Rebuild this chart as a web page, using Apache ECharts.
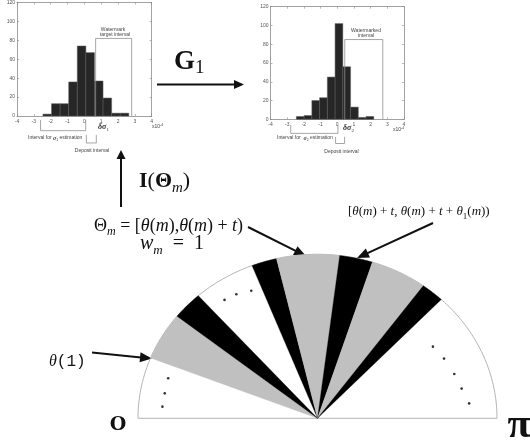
<!DOCTYPE html>
<html><head><meta charset="utf-8">
<script src="https://cdn.jsdelivr.net/npm/echarts/dist/echarts.min.js"></script>
<style>html,body{margin:0;padding:0;background:#fff}#c{width:530px;height:446px}</style>
</head><body><div id="c"></div>
<script>
// ---- Histogram 1 (watermark target) ----
const hist1BinStart = -2.46;
const hist1BinWidth = 0.51;
const hist1Counts = [2, 13, 13, 36, 74, 67, 37, 19, 3, 3];
// ---- Histogram 2 (watermarked) ----
const hist2BinStart = -2.45;
const hist2BinWidth = 0.464;
const hist2Counts = [3, 4, 20, 23, 45, 102, 56, 13, 2, 3];
// axis ranges shared by both histograms
const histXMin = -4, histXMax = 4, histXStep = 1;
const histYMin = 0, histYMax = 120, histYStep = 20;
// intervals drawn under / over the histograms: [x0, x1, yFrom, yTo]
const hist1Brackets = [[0.67, 2.81, 0, 82], [-2.6, 0.08, -4.2, -15.5], [0.12, 0.71, -20, -28.5]];
const hist2Brackets = [[0.45, 2.73, 0, 85], [-2.79, 0.04, -6, -15], [-0.1, 0.44, -18.7, -25.8]];
// ---- Semicircle of angle intervals (degrees from O to pi) ----
const sectorStart = [21.6, 38.5, 68.6, 76.8, 97.1, 107.8, 126.1];
const sectorEnd   = [38.5, 48.4, 76.8, 97.1, 107.8, 126.1, 133.6];
const sectorKind  = ['gray', 'black', 'black', 'gray', 'black', 'gray', 'black'];
// ellipsis dots (unit half-disc coordinates)
const dotX = [-0.518, -0.452, -0.369, -0.832, -0.851, -0.864, 0.643, 0.705, 0.762, 0.803, 0.845];
const dotY = [0.722, 0.756, 0.778, 0.244, 0.152, 0.071, 0.437, 0.364, 0.270, 0.181, 0.091];

const kindColor = {gray: '#c0c0c0', black: '#000000'};
const serif = 'Liberation Serif';
const sans = 'Liberation Sans';

const chart = echarts.init(document.getElementById('c'));

const frame = {show: true, onZero: false, lineStyle: {color: '#8a8a8a', width: 0.8}};
const tick = {show: true, inside: true, length: 2, lineStyle: {color: '#8a8a8a', width: 0.6}};
const lbl = {show: true, fontSize: 5, color: '#555', fontFamily: sans, margin: 3};
function xAx(g, pos, showLbl) {
  return {gridIndex: g, type: 'value', min: histXMin, max: histXMax, interval: histXStep, position: pos,
    axisLine: frame, axisTick: tick, axisLabel: showLbl ? lbl : {show: false}, splitLine: {show: false}};
}
function yAx(g, pos, showLbl) {
  return {gridIndex: g, type: 'value', min: histYMin, max: histYMax, interval: histYStep, position: pos,
    axisLine: frame, axisTick: tick, axisLabel: showLbl ? Object.assign({}, lbl, {margin: 2}) : {show: false}, splitLine: {show: false}};
}

function histSeries(ax, start, width, counts) {
  return {
    type: 'custom', xAxisIndex: ax, yAxisIndex: ax, clip: false,
    data: counts.map((c, i) => [start + i * width, start + (i + 1) * width, c]),
    renderItem: (p, api) => {
      const a = api.coord([api.value(0), api.value(2)]);
      const b = api.coord([api.value(1), 0]);
      return {type: 'rect', shape: {x: a[0], y: a[1], width: b[0] - a[0], height: b[1] - a[1]},
        style: {fill: '#262626', stroke: '#5a5a5a', lineWidth: 0.5}};
    }
  };
}
function bracketSeries(ax, list) {
  return {
    type: 'custom', xAxisIndex: ax, yAxisIndex: ax, clip: false, data: list,
    renderItem: (p, api) => {
      const x0 = api.value(0), x1 = api.value(1), ya = api.value(2), yb = api.value(3);
      return {type: 'polyline', shape: {points: [api.coord([x0, ya]), api.coord([x0, yb]), api.coord([x1, yb]), api.coord([x1, ya])]},
        style: {fill: null, stroke: '#8f8f8f', lineWidth: 0.8}};
    }
  };
}

function arrow(x1, y1, x2, y2, hl, hw, lw) {
  const dx = x2 - x1, dy = y2 - y1, L = Math.hypot(dx, dy), ux = dx / L, uy = dy / L;
  const bx = x2 - ux * hl, by = y2 - uy * hl;
  return [
    {type: 'line', shape: {x1: x1, y1: y1, x2: bx + ux, y2: by + uy}, style: {stroke: '#111', lineWidth: lw}},
    {type: 'polygon', shape: {points: [[x2, y2], [bx - uy * hw / 2, by + ux * hw / 2], [bx + uy * hw / 2, by - ux * hw / 2]]}, style: {fill: '#111'}}
  ];
}
function txt(x, y, text, style) {
  return {type: 'text', x: x, y: y, style: Object.assign({text: text, align: 'left', verticalAlign: 'middle', fill: '#111'}, style)};
}
function mathRich(fs, sfs, lh) {
  return {
    r: {fontFamily: serif, fontSize: fs, lineHeight: lh, fill: '#111'},
    i: {fontFamily: serif, fontSize: fs, fontStyle: 'italic', lineHeight: lh, fill: '#111'},
    b: {fontFamily: serif, fontSize: fs, fontWeight: 'bold', lineHeight: lh, fill: '#111'},
    s: {fontFamily: serif, fontSize: sfs, fontStyle: 'italic', lineHeight: sfs, verticalAlign: 'bottom', fill: '#111'},
    n: {fontFamily: serif, fontSize: sfs, lineHeight: sfs, verticalAlign: 'bottom', fill: '#111'},
    t: {fontFamily: 'Liberation Mono', fontSize: fs, lineHeight: lh, fill: '#111'}
  };
}
const tiny = {fontFamily: sans, fontSize: 5, fill: '#444', align: 'center'};
const tinyRich = {
  r: {fontFamily: sans, fontSize: 5, fill: '#444', lineHeight: 8},
  g: {fontFamily: serif, fontSize: 8, fontStyle: 'italic', fontWeight: 'bold', fill: '#333', lineHeight: 10},
  gs: {fontFamily: serif, fontSize: 5, fill: '#333', lineHeight: 5, verticalAlign: 'bottom'},
  sg: {fontFamily: serif, fontSize: 6, fontStyle: 'italic', fontWeight: 'bold', fill: '#444', lineHeight: 8},
  ss: {fontFamily: sans, fontSize: 3.5, fill: '#444', lineHeight: 4, verticalAlign: 'bottom'},
  up: {fontFamily: sans, fontSize: 3.5, fill: '#444', lineHeight: 4, verticalAlign: 'top'}
};

const graphics = [].concat(
  arrow(157, 84.5, 244, 84.5, 10, 9, 2),
  arrow(121, 207, 121, 150, 9, 9, 2),
  arrow(248, 227, 306, 256, 12, 10, 2),
  arrow(433, 223, 357, 258, 12, 10, 2),
  arrow(92, 352.5, 152, 358.5, 12, 10, 2),
  [
    txt(174, 62, '{b|G}{n|1}', {rich: mathRich(27, 19, 32)}),
    txt(139, 181, '{b|I}{r|(}{b|Θ}{s|m}{r|)}', {rich: mathRich(22, 15, 30)}),
    txt(94, 226, '{r|Θ}{s|m}{r| = [}{i|θ}{r|(}{i|m}{r|),}{i|θ}{r|(}{i|m}{r|) + }{i|t}{r|)}', {rich: mathRich(18, 12, 24)}),
    txt(140, 244, '{i|w}{s|m}{r|  =  1}', {rich: mathRich(20, 13, 26)}),
    txt(348, 212, '{r|[}{i|θ}{r|(}{i|m}{r|) + }{i|t}{r|, }{i|θ}{r|(}{i|m}{r|) + }{i|t}{r| + }{i|θ}{n|1}{r|(}{i|m}{r|))}', {rich: mathRich(13, 9, 18)}),
    txt(49, 362, '{i|θ}{t|(1)}', {rich: mathRich(16, 11, 20)}),
    txt(118, 425, 'O', {fontFamily: 'DejaVu Serif', fontSize: 19, fontWeight: 'bold', align: 'center', scaleX: 1.3}),
    txt(519, 426, 'π', {fontFamily: serif, fontSize: 42, fontWeight: 'bold', align: 'center'}),
    // histogram 1 annotations
    txt(113, 29.5, 'Watermark', tiny),
    txt(115, 34.5, 'target interval', tiny),
    txt(98, 127, '{g|δσ}{gs|1}', {rich: tinyRich}),
    txt(28, 138, '{r|Interval for }{sg|σ}{ss|1}{r| estimation}', {rich: tinyRich}),
    txt(92, 151, 'Deposit interval', tiny),
    txt(152, 127, '{r|x10}{up|-4}', {rich: tinyRich}),
    // histogram 2 annotations
    txt(366, 30.5, 'Watermarked', tiny),
    txt(366, 35.5, 'interval', tiny),
    txt(343, 128, '{g|δσ}{gs|2}', {rich: tinyRich}),
    txt(277, 138, '{r|Interval for  }{sg|σ}{ss|2}{r| estimation}', {rich: tinyRich}),
    txt(341.5, 151.5, 'Deposit interval', tiny),
    txt(393, 130, '{r|x10}{up|-4}', {rich: tinyRich})
  ]
);

chart.setOption({
  animation: false,
  backgroundColor: '#fff',
  grid: [
    {left: 17, top: 2.3, width: 134.7, height: 113.7},
    {left: 270.5, top: 6.7, width: 133.5, height: 112.6},
    {left: 138, top: 254.3, width: 359, height: 164}
  ],
  xAxis: [xAx(0, 'bottom', true), xAx(0, 'top', false), xAx(1, 'bottom', true), xAx(1, 'top', false),
    {gridIndex: 2, type: 'value', min: -1, max: 1, show: false}],
  yAxis: [yAx(0, 'left', true), yAx(0, 'right', false), yAx(1, 'left', true), yAx(1, 'right', false),
    {gridIndex: 2, type: 'value', min: 0, max: 1, show: false}],
  series: [
    histSeries(0, hist1BinStart, hist1BinWidth, hist1Counts),
    histSeries(2, hist2BinStart, hist2BinWidth, hist2Counts),
    bracketSeries(0, hist1Brackets),
    bracketSeries(2, hist2Brackets),
    {
      type: 'custom', xAxisIndex: 4, yAxisIndex: 4, clip: false, z: 1,
      data: [[0, 180]],
      renderItem: (p, api) => {
        const pts = [];
        for (let i = 0; i <= 180; i++) {
          const a = (api.value(0) + (api.value(1) - api.value(0)) * i / 180) * Math.PI / 180;
          pts.push(api.coord([-Math.cos(a), Math.sin(a)]));
        }
        pts.push(pts[0]);
        return {type: 'polyline', shape: {points: pts}, style: {fill: null, stroke: '#b5b5b5', lineWidth: 1}};
      }
    },
    {
      type: 'custom', xAxisIndex: 4, yAxisIndex: 4, clip: false, z: 2,
      data: sectorStart.map((s, i) => [s, sectorEnd[i], i]),
      renderItem: (p, api) => {
        const a0 = api.value(0), a1 = api.value(1), k = sectorKind[api.value(2)];
        const pts = [api.coord([0, 0])];
        const n = 40;
        for (let i = 0; i <= n; i++) {
          const a = (a0 + (a1 - a0) * i / n) * Math.PI / 180;
          pts.push(api.coord([-Math.cos(a), Math.sin(a)]));
        }
        return {type: 'polygon', shape: {points: pts}, style: {fill: kindColor[k], stroke: kindColor[k], lineWidth: 0.3}};
      }
    },
    {
      type: 'scatter', xAxisIndex: 4, yAxisIndex: 4, z: 3, symbolSize: 2.6,
      itemStyle: {color: '#000'},
      data: dotX.map((x, i) => [x, dotY[i]])
    }
  ],
  graphic: graphics
});
</script></body></html>
